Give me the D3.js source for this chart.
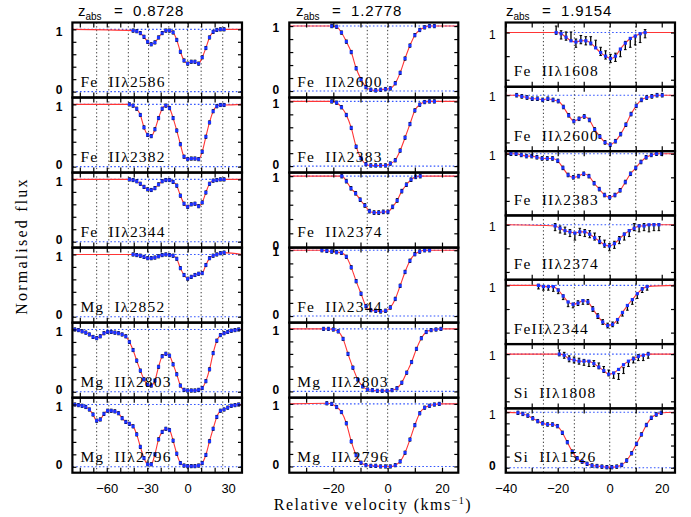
<!DOCTYPE html>
<html><head><meta charset="utf-8">
<script src="https://cdn.jsdelivr.net/npm/d3@7"></script>
<style>
html,body{margin:0;padding:0;background:#fff;}
svg{display:block;}
</style></head><body>
<svg id="chart" width="691" height="517"></svg>
<script>
// ================= DATA =================
const zabs = ["0.8728", "1.2778", "1.9154"];

// x tick marks and labelled ticks per column (km/s)
const col1Ticks = [-80,-70,-60,-50,-40,-30,-20,-10,0,10,20,30,40];
const col1TickLabels = [-60,-30,0,30];
const col2Ticks = [-30,-20,-10,0,10,20];
const col2TickLabels = [-20,0,20];
const col3Ticks = [-40,-30,-20,-10,0,10,20];
const col3TickLabels = [-40,-20,0,20];
const yTickValues = [0,0.2,0.4,0.6,0.8,1.0];

// velocity components (vertical dotted lines)
const col1Components = [-67.5,-58.5,-44,-29,-14,0,10,26];
const col2Components = [-7.5,0];
const col3Components = [-25.5,-13.6,0,10];

// ---- z = 0.8728 (model flux sampled on pixels; start velocity, step) ----
const c1Labels = ["Fe  II\u03bb2586","Fe  II\u03bb2382","Fe  II\u03bb2344","Mg  I\u03bb2852","Mg  II\u03bb2803","Mg  II\u03bb2796"];
const c1V0 = [-40.5,-43.2,-43.2,-40.5,-83.7,-83.7];
const c1DV = [2.7,2.7,2.7,2.7,2.7,2.7];
const c1Err = [0.025,0.025,0.025,0.025,0.025,0.025];
const fe2586_a = [0.98,0.97,0.94,0.88,0.80,0.76,0.79,0.87,0.94,0.98,0.98,0.95,0.83,0.64,0.50,0.45,0.48,0.48,0.45,0.55,0.70,0.87,0.96,0.99,1.00,1.00];
const fe2382_a = [1.00,0.98,0.93,0.83,0.63,0.51,0.49,0.60,0.78,0.93,0.98,0.94,0.78,0.58,0.36,0.16,0.12,0.13,0.13,0.12,0.24,0.48,0.71,0.89,0.97,0.99,0.99];
const fe2344_a = [1.00,0.99,0.97,0.93,0.88,0.84,0.83,0.86,0.92,0.97,0.99,0.99,0.96,0.90,0.74,0.61,0.56,0.60,0.61,0.57,0.63,0.79,0.93,0.98,0.99,1.00,1.00];
const mg2852_a = [1.00,0.99,0.98,0.96,0.94,0.94,0.95,0.97,0.99,1.00,0.99,0.98,0.93,0.78,0.67,0.61,0.64,0.67,0.69,0.70,0.83,0.94,0.98,1.00,1.02,1.03];
const mg2803_a = [1.00,0.99,0.97,0.95,0.92,0.88,0.86,0.89,0.94,0.96,0.96,0.95,0.94,0.92,0.89,0.80,0.67,0.50,0.34,0.20,0.11,0.10,0.18,0.40,0.57,0.61,0.58,0.44,0.28,0.10,0.03,0.02,0.02,0.02,0.03,0.06,0.17,0.36,0.62,0.82,0.91,0.94,0.96,0.98,0.99,1.00];
const mg2796_a = [1.00,0.99,0.98,0.96,0.92,0.84,0.74,0.76,0.85,0.90,0.90,0.89,0.86,0.78,0.72,0.69,0.65,0.52,0.32,0.14,0.04,0.04,0.20,0.44,0.56,0.61,0.59,0.42,0.21,0.06,0.02,0.01,0.01,0.01,0.02,0.06,0.19,0.41,0.61,0.80,0.90,0.92,0.95,0.98,0.99,1.00];

// ---- z = 1.2778 ----
const c2Labels = ["Fe  II\u03bb2600","Fe  II\u03bb2383","Fe  II\u03bb2374","Fe  II\u03bb2344","Mg  II\u03bb2803","Mg  II\u03bb2796"];
const c2V0 = [-20.6,-20.6,-16.9,-24.2,-23.6,-22.4];
const c2DV = [1.8,1.8,1.7,1.8,1.8,1.8];
const c2Err = [0.025,0.025,0.025,0.025,0.025,0.025];
const fe2600_b = [1.00,0.99,0.90,0.76,0.60,0.35,0.18,0.06,0.02,0.01,0.02,0.03,0.04,0.12,0.28,0.50,0.70,0.86,0.94,0.98,1.00,1.00];
const fe2383_b = [1.00,0.98,0.91,0.79,0.59,0.30,0.12,0.03,0.01,0.01,0.01,0.01,0.04,0.09,0.24,0.44,0.65,0.86,0.95,0.99,1.00,1.00];
const fe2374_b = [1.00,0.93,0.83,0.76,0.67,0.59,0.51,0.49,0.49,0.50,0.50,0.57,0.66,0.79,0.88,0.95,0.99,1.00];
const fe2344_b = [1.00,0.99,0.98,0.97,0.96,0.90,0.74,0.53,0.34,0.15,0.09,0.08,0.07,0.08,0.13,0.26,0.46,0.67,0.84,0.94,0.98,1.00,1.00];
const mg2803_b = [1.00,1.00,0.99,0.96,0.84,0.60,0.38,0.19,0.08,0.03,0.02,0.01,0.01,0.01,0.02,0.05,0.14,0.30,0.47,0.68,0.85,0.95,0.98,0.99,1.00];
const mg2796_b = [1.01,1.00,0.95,0.87,0.69,0.40,0.18,0.06,0.02,0.01,0.01,0.00,0.00,0.00,0.02,0.08,0.22,0.43,0.66,0.85,0.94,0.97,0.99,1.00];

// ---- z = 1.9154 ----
const c3Labels = ["Fe  II\u03bb1608","Fe  II\u03bb2600","Fe  II\u03bb2383","Fe  II\u03bb2374","FeII\u03bb2344","Si  II\u03bb1808","Si  II\u03bb1526"];
const c3V0 = [-20.6,-35.8,-38.0,-21.0,-27.4,-19.4,-35.3];
const c3DV = [1.9,2.0,2.0,1.9,1.9,1.9,1.9];
const c3Err = [0.035,0.015,0.015,0.03,0.02,0.025,0.03];
const fe1608_c = [1.00,0.99,0.96,0.93,0.92,0.93,0.93,0.91,0.87,0.83,0.80,0.78,0.80,0.86,0.91,0.95,0.97,0.99,1.00];
const fe1608_c_obs = [1.02,0.98,0.97,0.97,0.91,0.94,0.93,0.93,0.90,0.84,0.81,0.78,0.79,0.83,0.89,0.91,0.93,0.95,0.99];
const fe2600_c = [1.00,0.99,0.98,0.97,0.97,0.96,0.97,0.96,0.95,0.90,0.83,0.78,0.80,0.82,0.79,0.71,0.65,0.60,0.58,0.61,0.67,0.75,0.84,0.91,0.96,0.98,0.99,1.00,1.00];
const fe2383_c = [1.00,1.00,0.99,0.98,0.98,0.97,0.96,0.96,0.96,0.94,0.88,0.82,0.80,0.81,0.83,0.81,0.75,0.70,0.65,0.63,0.65,0.69,0.76,0.83,0.88,0.93,0.97,0.99,1.00,1.00];
const fe2374_c = [0.99,0.97,0.95,0.94,0.93,0.94,0.94,0.92,0.89,0.86,0.83,0.82,0.84,0.88,0.92,0.95,0.97,0.99,0.99,1.00,1.00,1.00];
const fe2374_c_obs = [0.98,0.96,0.95,0.93,0.90,0.94,0.93,0.92,0.90,0.87,0.84,0.81,0.83,0.87,0.90,0.93,0.98,0.97,0.98,0.97,0.98,0.98];
const fe2344_c = [1.00,0.99,0.99,0.99,0.96,0.91,0.86,0.84,0.85,0.87,0.86,0.80,0.74,0.69,0.66,0.67,0.71,0.77,0.83,0.88,0.93,0.97,0.99];
const fe2344_c_obs = [0.99,0.98,0.98,0.97,0.95,0.90,0.84,0.83,0.85,0.86,0.86,0.80,0.74,0.69,0.66,0.67,0.70,0.76,0.81,0.86,0.91,0.96,0.98];
const si1808_c = [1.00,0.99,0.96,0.95,0.94,0.94,0.94,0.92,0.89,0.86,0.83,0.84,0.87,0.91,0.94,0.96,0.98,0.99,1.00];
const si1808_c_obs = [1.01,0.99,0.96,0.95,0.94,0.93,0.92,0.92,0.90,0.87,0.84,0.82,0.81,0.86,0.92,0.95,0.97,0.97,0.99];
const si1526_c = [0.99,0.97,0.94,0.89,0.84,0.80,0.78,0.78,0.75,0.63,0.46,0.29,0.17,0.11,0.07,0.04,0.03,0.02,0.01,0.01,0.02,0.05,0.13,0.26,0.43,0.60,0.77,0.90,0.96,0.99];

// ================= LAYOUT =================
const FONT_SANS = "'Liberation Sans', Arial, Helvetica, sans-serif";
const FONT_SERIF = "'Liberation Serif', 'Times New Roman', serif";
const RED = "#ff3535", BLUE = "#1a33ff", DOTBLUE = "#3355ff";
const plotTop = 22.5, plotBottom = 472.7;

function mk(labels, v0, dv, err, models, obs, ydoms, ylabs) {
  return models.map((m, i) => ({label: labels[i], v0: v0[i], dv: dv[i], err: err[i], model: m,
    obs: obs[i] || m, yDomain: ydoms[i], yLabels: ylabs[i]}));
}
const columns = [
  { z: zabs[0], titleX: 78, xDomain: [-85.5, 40.3], xRange: [72.4, 242], ticks: col1Ticks, tickLabels: col1TickLabels,
    comps: col1Components, labelBold: true,
    panels: mk(c1Labels, c1V0, c1DV, c1Err, [fe2586_a, fe2382_a, fe2344_a, mg2852_a, mg2803_a, mg2796_a], [],
      Array(6).fill([-0.095, 1.11]), Array(6).fill([0,1])) },
  { z: zabs[1], titleX: 296, xDomain: [-36.2, 26], xRange: [289.3, 458.3], ticks: col2Ticks, tickLabels: col2TickLabels,
    comps: col2Components, labelBold: true,
    panels: mk(c2Labels, c2V0, c2DV, c2Err, [fe2600_b, fe2383_b, fe2374_b, fe2344_b, mg2803_b, mg2796_b], [],
      [[-0.1,1.055],[-0.1,1.06],[0,1.05],[-0.1,1.04],[-0.1,1.1],[-0.1,1.1]], Array(6).fill([0,1])) },
  { z: zabs[2], titleX: 506, xDomain: [-40, 25.1], xRange: [505.7, 675], ticks: col3Ticks, tickLabels: col3TickLabels,
    comps: col3Components, labelBold: false,
    panels: mk(c3Labels, c3V0, c3DV, c3Err, [fe1608_c, fe2600_c, fe2383_c, fe2374_c, fe2344_c, si1808_c, si1526_c],
      [fe1608_c_obs, null, null, fe2374_c_obs, fe2344_c_obs, si1808_c_obs, null],
      [[0.54,1.085],[0.526,1.071],[0.477,1.022],[0.534,1.079],[0.503,1.048],[0.54,1.085],[-0.09,1.07]],
      [[1],[1],[1],[1],[1],[1],[0,1]]) }
];

// ================= DRAW =================
const svg = d3.select("#chart");
const defs = svg.append("defs");

columns.forEach((col, ci) => {
  const x = d3.scaleLinear().domain(col.xDomain).range(col.xRange);
  const [xl, xr] = col.xRange;
  const n = col.panels.length;
  const ph = (plotBottom - plotTop) / n;

  col.panels.forEach((p, pi) => {
    const y0 = plotTop + pi * ph, y1 = y0 + ph;
    const y = d3.scaleLinear().domain(p.yDomain).range([y1, y0]);
    const cid = `clip-${ci}-${pi}`;
    defs.append("clipPath").attr("id", cid).append("rect")
      .attr("x", xl).attr("y", y0).attr("width", xr - xl).attr("height", y1 - y0);
    const g = svg.append("g");
    const gc = g.append("g").attr("clip-path", `url(#${cid})`);

    const pts = p.model.map((f, i) => ({v: p.v0 + i * p.dv, f: f, o: p.obs[i]}));

    // horizontal reference lines at 0 and 1
    [0, 1].filter(v => v >= p.yDomain[0] && v <= p.yDomain[1]).forEach(v => {
      gc.append("line").attr("x1", xl).attr("x2", xr).attr("y1", y(v)).attr("y2", y(v))
        .attr("stroke", DOTBLUE).attr("stroke-width", 1.1).attr("stroke-dasharray", "1.6,2.2");
    });
    // component lines
    gc.selectAll("line.comp").data(col.comps).join("line").attr("class", "comp")
      .attr("x1", d => x(d)).attr("x2", d => x(d)).attr("y1", y0).attr("y2", y1)
      .attr("stroke", "#222").attr("stroke-width", 0.9).attr("stroke-dasharray", "1.3,2.4");

    // model line, continuum outside the fitted range
    const lineData = [{v: col.xDomain[0], f: 1}, ...pts, {v: col.xDomain[1], f: 1}];
    gc.append("path").datum(lineData)
      .attr("d", d3.line().x(d => x(d.v)).y(d => y(d.f)).curve(d3.curveMonotoneX))
      .attr("fill", "none").attr("stroke", RED).attr("stroke-width", 1.1);

    // observed flux with error bars
    const eb = gc.append("g").attr("stroke", "#000").attr("stroke-width", 1.3);
    eb.selectAll("line.e").data(pts).join("line").attr("class", "e")
      .attr("x1", d => x(d.v)).attr("x2", d => x(d.v))
      .attr("y1", d => y(d.o - p.err)).attr("y2", d => y(d.o + p.err));
    eb.selectAll("line.c1").data(pts).join("line").attr("class", "c1")
      .attr("x1", d => x(d.v) - 1.3).attr("x2", d => x(d.v) + 1.3)
      .attr("y1", d => y(d.o - p.err)).attr("y2", d => y(d.o - p.err)).attr("stroke-width", 1);
    eb.selectAll("line.c2").data(pts).join("line").attr("class", "c2")
      .attr("x1", d => x(d.v) - 1.3).attr("x2", d => x(d.v) + 1.3)
      .attr("y1", d => y(d.o + p.err)).attr("y2", d => y(d.o + p.err)).attr("stroke-width", 1);

    // model sampled at pixels
    gc.selectAll("rect.m").data(pts).join("rect").attr("class", "m")
      .attr("x", d => x(d.v) - 1.6).attr("y", d => y(d.f) - 1.6)
      .attr("width", 3.2).attr("height", 3.2).attr("fill", BLUE);

    // frame
    g.append("rect").attr("x", xl).attr("y", y0).attr("width", xr - xl).attr("height", y1 - y0)
      .attr("fill", "none").attr("stroke", "#000").attr("stroke-width", 2.2);

    // ticks (inward)
    const yt = yTickValues.filter(v => v >= p.yDomain[0] && v <= p.yDomain[1]);
    const axes = [
      [d3.axisBottom(x).tickValues(col.ticks).tickSize(-5), `translate(0,${y1})`],
      [d3.axisTop(x).tickValues(col.ticks).tickSize(-5), `translate(0,${y0})`],
      [d3.axisLeft(y).tickValues(yt).tickSize(-4), `translate(${xl},0)`],
      [d3.axisRight(y).tickValues(yt).tickSize(-4), `translate(${xr},0)`]
    ];
    axes.forEach(([ax, tr]) => {
      const a = g.append("g").attr("transform", tr).call(ax.tickFormat(""));
      a.select(".domain").remove();
      a.selectAll(".tick line").attr("stroke", "#000").attr("stroke-width", 1.2);
    });

    // y labels
    p.yLabels.forEach(v => {
      const bold = col.labelBold || v === 0;
      g.append("text").attr("x", xl - 10).attr("y", y(v)).attr("dy", v === 0 ? "0.22em" : "0.52em")
        .attr("text-anchor", "end").attr("font-family", FONT_SANS).attr("font-size", 12)
        .attr("font-weight", bold ? "bold" : "normal").text(v);
    });

    // panel label
    g.append("text").attr("x", xl + 8).attr("y", y1 - 10.5)
      .attr("font-family", FONT_SERIF).attr("font-size", 15.5).attr("letter-spacing", "1.2px")
      .style("white-space", "pre").text(p.label);

    // bottom tick labels
    if (pi === n - 1) {
      const ax = g.append("g").attr("transform", `translate(0,${y1})`)
        .call(d3.axisBottom(x).tickValues(col.tickLabels).tickSize(0).tickPadding(11).tickFormat(d3.format("d")));
      ax.select(".domain").remove();
      ax.selectAll("text").attr("font-family", FONT_SANS).attr("font-size", 13).attr("fill", "#000");
    }
  });

  // title
  const t = svg.append("text").attr("x", col.titleX).attr("y", 16)
    .attr("font-family", FONT_SANS).attr("font-size", 15);
  t.append("tspan").text("z");
  t.append("tspan").attr("dy", 4).attr("font-size", 10).text("abs");
  t.append("tspan").attr("x", col.titleX + 36).attr("dy", -4).text("=");
  t.append("tspan").attr("x", col.titleX + 55).attr("letter-spacing", "0.9px").text(col.z);
});

// axis titles
const xt = svg.append("text").attr("x", 373).attr("y", 510).attr("text-anchor", "middle")
  .attr("font-family", FONT_SERIF).attr("font-size", 16).attr("letter-spacing", "1.5px");
xt.append("tspan").text("Relative velocity (kms");
xt.append("tspan").attr("dy", -6).attr("font-size", 10).text("\u22121");
xt.append("tspan").attr("dy", 6).text(")");

svg.append("text").attr("transform", "translate(27,246) rotate(-90)").attr("text-anchor", "middle")
  .attr("font-family", FONT_SERIF).attr("font-size", 16).attr("letter-spacing", "2.2px")
  .text("Normalised flux");
</script>
</body></html>
